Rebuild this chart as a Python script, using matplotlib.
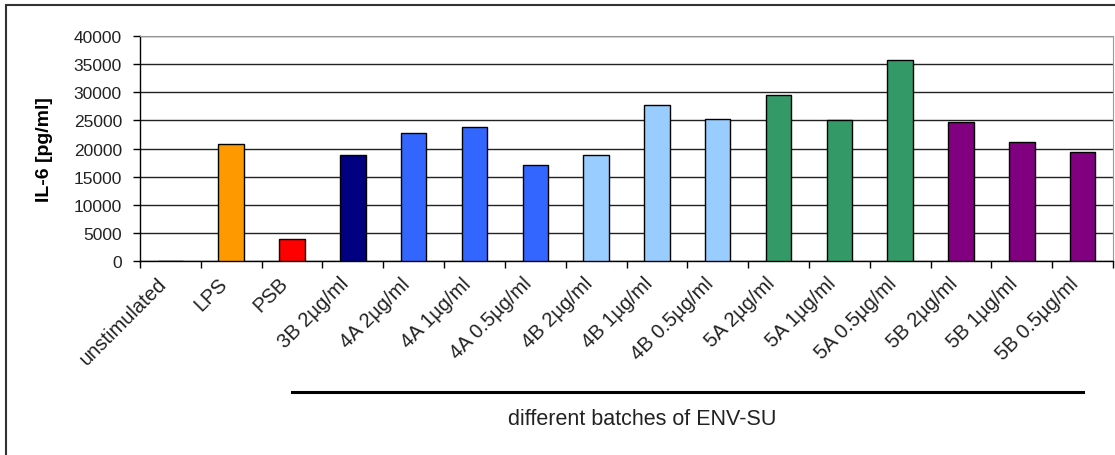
import numpy as np
import matplotlib
matplotlib.use('Agg')
from matplotlib import pyplot as plt
from matplotlib import transforms
from matplotlib.patches import Rectangle

plt.rcParams['font.family'] = ['Liberation Sans', 'DejaVu Sans']

# Data
categories = ['unstimulated', 'LPS', 'PSB', '3B 2µg/ml',
              '4A 2µg/ml', '4A 1µg/ml', '4A 0.5µg/ml',
              '4B 2µg/ml', '4B 1µg/ml', '4B 0.5µg/ml',
              '5A 2µg/ml', '5A 1µg/ml', '5A 0.5µg/ml',
              '5B 2µg/ml', '5B 1µg/ml', '5B 0.5µg/ml']
il6_values = [0, 20800, 3900, 18900,
              22800, 23900, 17100,
              18900, 27800, 25300,
              29500, 25000, 35700,
              24800, 21100, 19400]
bar_colors = ['#FFFFFF', '#FF9900', '#FF0000', '#000080',
              '#3366FF', '#3366FF', '#3366FF',
              '#99CCFF', '#99CCFF', '#99CCFF',
              '#339966', '#339966', '#339966',
              '#800080', '#800080', '#800080']
y_ticks = np.arange(0, 40001, 5000)
group_label = 'different batches of ENV-SU'
group_first, group_last = 2, 15   # PSB ... 5B 0.5µg/ml

W, H = 1115, 456
fig = plt.figure(figsize=(W / 100, H / 100), dpi=100)
ax = fig.add_axes([140 / W, 1 - 262 / H, 973 / W, 225 / H])

x = np.arange(len(categories))
ax.bar(x, il6_values, width=0.42, color=bar_colors, edgecolor='black',
       linewidth=1.0, zorder=3)

ax.set_xlim(-0.5, len(categories) - 0.5)
ax.set_ylim(0, 40000)
ax.set_yticks(y_ticks)
ax.set_yticklabels([str(v) for v in y_ticks], fontsize=12.5, color='#222222')
ax.tick_params(axis='y', direction='out', length=5, width=1, pad=8)

# ticks between categories, labels at centres
ax.set_xticks(np.arange(-0.5, len(categories)), minor=False)
ax.set_xticklabels([])
ax.tick_params(axis='x', which='major', direction='out', length=5, width=1)
ax.set_xticks(x, minor=True)
ax.set_xticklabels(categories, minor=True, rotation=45, ha='right', va='top',
                   fontsize=14.5, color='#222222')
ax.tick_params(axis='x', which='minor', length=0, pad=9)

ax.yaxis.grid(True, color='#222222', linewidth=1.0, zorder=0)
ax.set_axisbelow(True)
for side in ('top', 'right'):
    ax.spines[side].set_color('#999999')
for side in ('bottom', 'left'):
    ax.spines[side].set_color('black')
    ax.spines[side].set_linewidth(1.0)

ax.set_ylabel('IL-6 [pg/ml]', fontsize=14, fontweight='bold')
ax.yaxis.set_label_coords(-0.089, 0.5)

# group bracket under the labels
trans = transforms.blended_transform_factory(ax.transData, ax.transAxes)
ax.plot([group_first, group_last], [-0.582, -0.582], color='black', lw=2.2,
        transform=trans, clip_on=False)
ax.text(7.75, -0.70, group_label, transform=trans, ha='center', va='center',
        fontsize=15.5, color='#222222')

# chart frame (cut off at right/bottom as in the original)
fig.patches.append(Rectangle((6 / W, -0.05), 1.1, 1 - 6 / H + 0.05,
                             transform=fig.transFigure, fill=False,
                             edgecolor='#333333', linewidth=1.5))

fig.savefig('out.png', dpi=100)
